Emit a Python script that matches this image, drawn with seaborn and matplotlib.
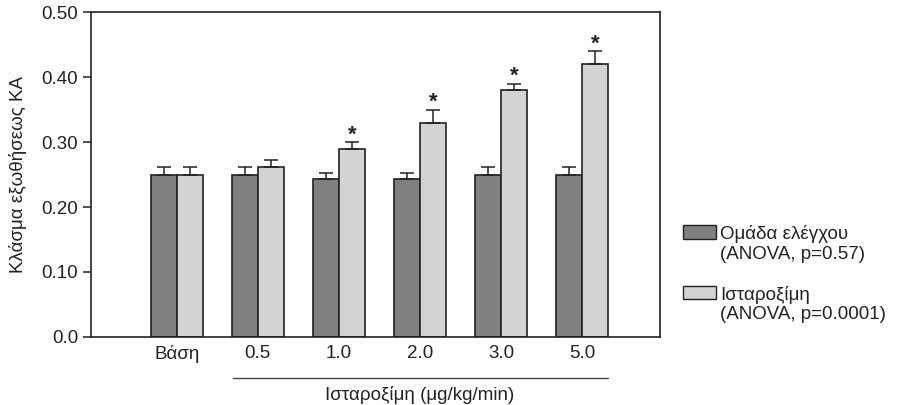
import numpy as np
import pandas as pd
import matplotlib
matplotlib.use('Agg')
import matplotlib.pyplot as plt
import matplotlib.transforms as mtransforms
from matplotlib.patches import Patch
import seaborn as sns

# data
doses = ['Βάση', '0.5', '1.0', '2.0', '3.0', '5.0']
groups = ['Ομάδα ελέγχου', 'Ισταροξίμη']
control_vals = [0.25, 0.25, 0.243, 0.243, 0.25, 0.25]
control_err = [0.011, 0.011, 0.009, 0.009, 0.011, 0.011]
ista_vals = [0.25, 0.262, 0.29, 0.33, 0.38, 0.42]
ista_err = [0.011, 0.011, 0.010, 0.020, 0.010, 0.020]
significant = [False, False, True, True, True, True]
legend_labels = ['Ομάδα ελέγχου\n(ANOVA, p=0.57)', 'Ισταροξίμη\n(ANOVA, p=0.0001)']
colors = ['#808080', '#d2d3d5']

df = pd.DataFrame({
    'dose': doses * 2,
    'group': [groups[0]] * len(doses) + [groups[1]] * len(doses),
    'value': control_vals + ista_vals,
})

sns.set_style('white')
plt.rcParams['font.family'] = ['Liberation Sans', 'DejaVu Sans']
fs = 13.5
plt.rcParams['font.size'] = fs

fig = plt.figure(figsize=(8.99, 4.05), dpi=100)
ax = fig.add_axes([0.101, 0.168, 0.633, 0.802])

sns.barplot(data=df, x='dose', y='value', hue='group', order=doses, hue_order=groups,
            palette=colors, width=0.64, gap=0, errorbar=None, edgecolor='#222222',
            linewidth=1.2, saturation=1, legend=False, ax=ax)

# error bars (upward only) + stars
for cont, errs in zip(ax.containers, [control_err, ista_err]):
    xs = [p.get_x() + p.get_width() / 2 for p in cont.patches]
    hs = [p.get_height() for p in cont.patches]
    ax.errorbar(xs, hs, yerr=[np.zeros(len(errs)), errs], fmt='none', ecolor='#222222',
                elinewidth=1.1, capsize=4.7, capthick=1.1, zorder=1)
ista_bars = ax.containers[1].patches
for p, e, sig in zip(ista_bars, ista_err, significant):
    if sig:
        ax.text(p.get_x() + p.get_width() / 2, p.get_height() + e - 0.005, '*',
                ha='center', va='bottom', fontsize=16, fontweight='bold', color='#222222')

ax.set_ylim(0, 0.5)
ax.set_xlim(-1.06, 5.96)
ax.set_yticks([0, 0.1, 0.2, 0.3, 0.4, 0.5])
ax.set_yticklabels(['0.0', '0.10', '0.20', '0.30', '0.40', '0.50'])
ax.tick_params(axis='y', length=6, width=1.1, color='#222222', labelsize=fs, pad=3,
               left=True, labelcolor='#222222')
ax.tick_params(axis='x', length=0, labelsize=fs, pad=6, labelcolor='#222222')
for s in ax.spines.values():
    s.set_color('#222222')
    s.set_linewidth(1.2)

ax.set_ylabel('Κλάσμα εξωθήσεως ΚΑ', fontsize=fs, color='#222222')
ax.yaxis.set_label_coords(-0.112, 0.5)
ax.set_xlabel('Ισταροξίμη (μg/kg/min)', fontsize=fs, color='#222222')
ax.xaxis.set_label_coords(0.578, -0.152)

# bracket line under the dose ticks
trans = mtransforms.blended_transform_factory(ax.transData, ax.transAxes)
left_edge = ax.containers[0].patches[1].get_x() + 0.02
right_edge = ista_bars[-1].get_x() + ista_bars[-1].get_width()
ax.plot([left_edge, right_edge], [-0.125, -0.125], color='#444444', lw=1.0,
        transform=trans, clip_on=False)

handles = [Patch(facecolor=c, edgecolor='#222222', linewidth=1.0) for c in colors]
leg = fig.legend(handles, legend_labels, loc='upper left', bbox_to_anchor=(0.741, 0.485),
                 frameon=False, fontsize=fs, handlelength=1.76, handleheight=0.7,
                 handletextpad=0.2, labelspacing=1.2)
for t in leg.get_texts():
    t.set_color('#222222')
for col in leg._legend_handle_box.get_children():
    for row in col.get_children():
        row.align = 'top'

fig.savefig('out.png', dpi=100)
